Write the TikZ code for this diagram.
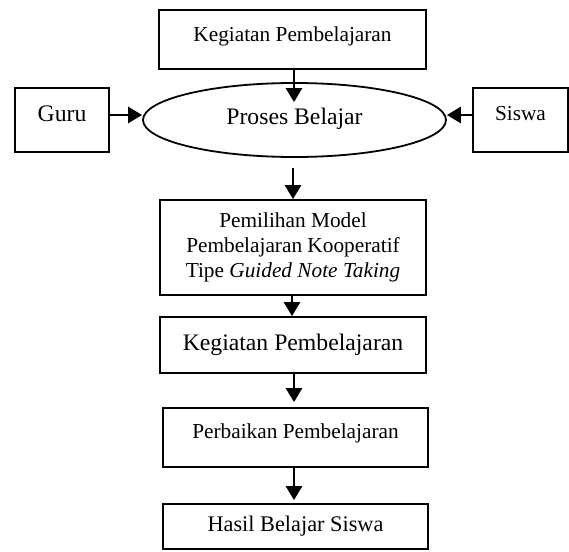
\documentclass[tikz,border=0pt]{standalone}
\usepackage{fontspec}
\setmainfont{Liberation Serif}
\usetikzlibrary{arrows.meta,shapes.geometric}

\begin{document}
\begin{tikzpicture}[x=1pt,y=-1pt,
    kotak/.style={draw,line width=1.8pt,inner sep=0pt,align=center,
      font=\fontsize{21.3}{25}\selectfont},
    besar/.style={font=\fontsize{23.7}{27}\selectfont},
    naik/.style={text depth=#1},
    panah/.style={line width=2.8pt,-{Triangle[length=14pt,width=16pt]}}]
  \useasboundingbox (0,0) rectangle (569,551);
  % bagian atas
  \node[kotak,naik=11pt,minimum width=267pt,minimum height=59pt] (kegiatan) at (292.5,39.5) {Kegiatan Pembelajaran};
  \node[kotak,besar,naik=8pt,ellipse,minimum width=303pt,minimum height=74pt] (proses) at (294.5,120) {Proses Belajar};
  \node[kotak,besar,naik=13pt,minimum width=94pt,minimum height=64pt] (guru) at (62,120) {Guru};
  \node[kotak,naik=13pt,minimum width=95pt,minimum height=64pt] (siswa) at (520.5,120) {Siswa};
  % bagian bawah
  \node[kotak,minimum width=266pt,minimum height=95pt] (pemilihan) at (293,247.5)
    {Pemilihan Model\\Pembelajaran Kooperatif\\Tipe \textit{Guided Note Taking}};
  \node[kotak,besar,minimum width=266pt,minimum height=56pt] (kegiatanb) at (293,345) {Kegiatan Pembelajaran};
  \node[kotak,naik=12pt,minimum width=265pt,minimum height=59pt] (perbaikan) at (295.5,437.5) {Perbaikan Pembelajaran};
  \node[kotak,font=\fontsize{22.3}{26}\selectfont,minimum width=265pt,minimum height=45pt] (hasil) at (295.5,526.5) {Hasil Belajar Siswa};
  % panah
  \draw[panah,shorten >=-20pt] ([xshift=1.5pt]kegiatan.south) -- ([xshift=1.5pt]kegiatan.south |- proses.north);
  \draw[panah] ([yshift=5pt]guru.east) -- ([yshift=5pt]guru.east -| proses.west);
  \draw[panah] ([yshift=5pt]siswa.west) -- ([yshift=5pt]siswa.west -| proses.east);
  \draw[panah,shorten <=10pt] ([xshift=-1.5pt]proses.south) -- ([xshift=-1.5pt]proses.south |- pemilihan.north);
  \draw[panah] ([xshift=-1pt]pemilihan.south) -- ([xshift=-1pt]pemilihan.south |- kegiatanb.north);
  \draw[panah,shorten >=5pt] ([xshift=1pt]kegiatanb.south) -- ([xshift=1pt]kegiatanb.south |- perbaikan.north);
  \draw[panah,shorten >=3pt] ([xshift=-1.5pt]perbaikan.south) -- ([xshift=-1.5pt]perbaikan.south |- hasil.north);
\end{tikzpicture}
\end{document}
